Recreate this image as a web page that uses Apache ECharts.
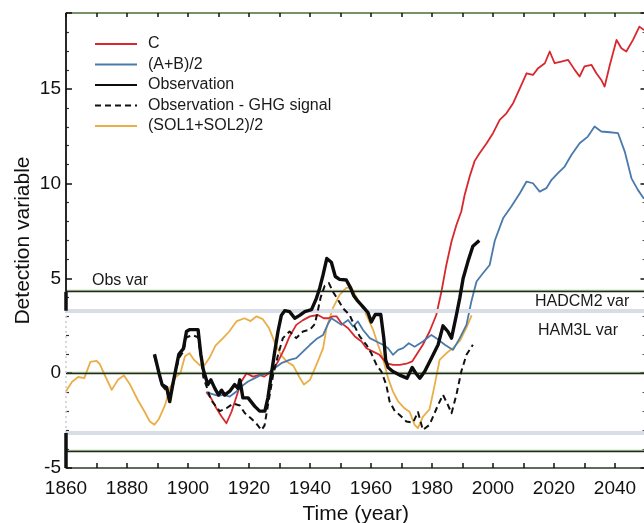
<!DOCTYPE html>
<html>
<head>
<meta charset="utf-8">
<script src="https://cdn.jsdelivr.net/npm/echarts@6/dist/echarts.min.js"></script>
<style>
  html, body { margin: 0; padding: 0; background: #fff; }
  #chart { width: 644px; height: 523px; }
</style>
</head>
<body>
<div id="chart"></div>
<script>
// Detection variable time series, 1860-2050

// Model run C
const cYears = [1906,1907.5,1909.3,1911,1912.6,1914.3,1915.9,1917.5,1919.2,1921.3,1923.5,1925,1927.3,1929.5,1931.7,1933.3,1935.5,1937.7,1940,1942.6,1944.5,1946,1947.5,1948.7,1950.3,1952.5,1954.7,1956.9,1958.5,1960.7,1962.8,1965,1967.2,1969.4,1971.6,1973.5,1974.9,1977,1979.2,1981.4,1983.1,1984.7,1986.4,1988,1989.6,1990.7,1992.4,1994,1995.6,1997.8,2000,2002.2,2004.4,2006.6,2008.8,2011,2013.1,2014.8,2017,2018.6,2020.2,2022.4,2024.6,2026.8,2028.4,2030,2032.3,2033.9,2035.5,2036.6,2038.3,2040.5,2042.1,2043.7,2045.9,2048,2049.5];
const cValues = [-1.0,-1.3,-1.85,-2.28,-2.64,-2.02,-1.23,-0.44,0,-0.18,-0.09,-0.18,0.09,0.61,1.32,1.94,2.55,2.8,3.0,3.07,2.9,2.9,3.0,3.0,2.64,2.37,1.94,1.67,1.32,1.14,0.97,0.53,0.44,0.44,0.5,0.62,0.97,1.5,2.2,3.07,4.31,5.71,6.95,7.82,8.53,9.4,10.4,11.2,11.6,12.1,12.66,13.36,13.71,14.24,15.03,15.82,15.73,16.09,16.35,16.97,16.35,16.44,16.53,16.0,15.65,16.18,16.26,15.82,15.47,15.12,16.26,17.58,17.14,16.97,17.58,18.28,18.1];

// Mean of runs A and B
const abYears = [1906,1908,1910,1911.5,1913.7,1915.9,1917.5,1919.7,1921.9,1924,1926.2,1928.4,1930.6,1933.3,1935.5,1937.7,1940,1942.1,1944.3,1946,1947,1948.7,1950.3,1952.5,1954.1,1955.7,1957.4,1959.6,1961.8,1963.9,1965.6,1967.2,1968.9,1970.5,1972.4,1974.3,1977,1979.8,1981.4,1984.2,1986.9,1989.1,1991.3,1992.9,1994.6,1996.7,1998.9,2000.6,2003.3,2006,2008.8,2011,2013.1,2015.3,2017.5,2019.2,2021.3,2023.5,2025.7,2028.4,2031.1,2033.3,2035.5,2038.3,2041,2043.2,2045.4,2047.5,2049.5];
const abValues = [-1.0,-1.1,-1.2,-1.14,-1.23,-0.97,-0.7,-0.44,-0.26,-0.09,0,0.26,0.53,0.7,0.79,1.14,1.5,1.8,2.02,2.64,2.9,2.73,2.55,2.81,2.46,2.73,2.28,1.85,1.67,1.5,1.32,0.97,1.23,1.32,1.58,1.4,1.67,2.02,1.85,1.5,1.23,1.85,2.55,3.78,4.84,5.27,5.71,7.0,8.17,8.79,9.49,10.11,10.02,9.58,9.76,10.2,10.55,10.9,11.51,12.13,12.48,13.01,12.75,12.71,12.66,11.69,10.28,9.67,9.2];

// Observed record
const obsYears = [1889,1890.5,1891.5,1893,1894,1895,1896,1897,1898.5,1899.5,1900.5,1903.3,1904.2,1905,1906.5,1907.5,1908.8,1910,1911,1912,1913.7,1915.3,1916.4,1917,1918,1919.7,1921.9,1923.5,1925.2,1926.2,1927.3,1928.4,1929.5,1930.6,1931.7,1933.3,1935,1936.6,1938.3,1940.5,1942.1,1943.2,1944.3,1945.5,1947,1948.3,1949.7,1951.9,1953.3,1954.3,1955.7,1957.4,1959,1960.1,1961.4,1963.2,1964.2,1964.8,1965.6,1967.2,1969.4,1971.8,1973.5,1974.7,1976,1977.6,1979.8,1982,1983.6,1985.2,1986.4,1988,1989.1,1990.2,1991.8,1993.4,1995.5];
const obsValues = [1.0,0.0,-0.6,-0.75,-1.5,-0.6,0.2,1.0,1.3,2.2,2.3,2.3,1.0,0.2,-0.6,-0.35,-0.8,-1.15,-0.9,-1.15,-0.95,-0.6,-0.8,-0.35,-1.3,-1.3,-1.75,-2.0,-2.0,-1.3,-0.1,1.1,2.2,3.05,3.3,3.25,2.9,3.05,3.25,3.35,3.95,4.5,5.2,6.05,5.85,5.1,4.95,4.92,4.5,4.1,3.8,3.5,3.2,2.7,3.1,3.1,1.85,0.7,0.3,0.09,-0.1,-0.26,0.3,0.0,-0.26,0.09,0.79,1.5,2.5,2.2,1.85,3.07,3.96,5.0,5.9,6.7,7.0];

// Observation with the GHG signal removed
const resYears = [1889,1890.5,1891.5,1893,1894,1895,1896,1897,1898.5,1899.5,1901.5,1903.3,1904.3,1905,1906.5,1907.5,1908.8,1910.4,1912.6,1914.8,1917,1918.6,1920.8,1922.4,1924.1,1925.1,1926.2,1927.9,1929.5,1931.1,1933.3,1935.5,1937.7,1940,1941.6,1942.7,1943.5,1944.8,1946.2,1947.5,1949.2,1950.8,1953,1954.7,1956.3,1958.5,1960.1,1961.8,1963.4,1965,1966.1,1967.8,1969.4,1971.6,1973.8,1975.4,1977,1979.2,1982,1983.6,1985.2,1986.4,1988,1989.6,1991.3,1993.4];
const resValues = [0.9,0.0,-0.65,-0.95,-1.4,-0.7,0.1,0.8,1.15,1.9,2.0,1.9,0.8,-0.2,-0.9,-1.4,-1.67,-2.0,-1.85,-1.6,-1.7,-2.1,-2.4,-2.65,-3.0,-2.75,-1.7,-0.1,0.95,1.85,2.2,1.85,2.2,2.3,2.6,3.4,4.0,4.6,4.75,4.3,3.87,3.43,3.07,2.46,1.94,1.5,1.05,0.44,0.09,-0.61,-1.49,-2.0,-2.2,-2.55,-2.6,-2.05,-2.99,-2.72,-1.67,-1.14,-1.67,-2.11,-1.14,0.09,0.97,1.5];

// Mean of solar-forced runs SOL1 and SOL2
const solYears = [1860,1862,1864,1866,1868,1870,1871,1873,1875,1877,1879,1881,1883.5,1886,1887.5,1889,1890.5,1892.5,1894,1896,1897.5,1899,1900.5,1902,1904,1905.5,1907,1909,1911.5,1913.5,1916,1918.5,1920.5,1922.5,1924.5,1926.5,1928.5,1930.5,1932.5,1934.5,1936.5,1938,1940,1942.5,1944.3,1945.4,1947.5,1949.7,1951.9,1953.6,1955.7,1958.5,1960.7,1962.3,1963.9,1965.6,1967.2,1968.9,1971,1972.7,1974.3,1975.4,1977,1979.2,1980.9,1982.5,1984.7,1987,1989.1,1991.3,1993];
const solValues = [-0.95,-0.45,-0.2,-0.26,0.6,0.65,0.5,-0.2,-0.88,-0.35,-0.12,-0.6,-1.4,-2.1,-2.55,-2.72,-2.4,-1.67,-0.8,-0.2,0,0.9,1.05,0.7,0.4,0.45,0.8,1.45,1.85,2.2,2.75,2.9,2.75,3.0,2.85,2.4,1.6,0.95,0.6,0.4,-0.2,-0.6,-0.35,0.6,1.32,2.37,3.43,4.13,4.5,4.5,3.87,3.07,2.28,1.5,0.79,-0.26,-0.97,-1.49,-1.85,-2.05,-2.72,-2.9,-2.3,-1.9,-0.6,0.7,1.05,1.35,1.7,2.4,3.05];

// Variability levels: thresholds (dark lines) and model bands (grey)
const obsVarLevels = [4.3, 0, -4.1];
const modelVarLevels = [3.3, -3.15];

// Axis ticks
const xMin = 1860, xMax = 2050, xStep = 10, xLabelStep = 20;
const yMin = -5, yMax = 19, yStep = 5;

const FONT = '"Liberation Sans", Arial, Helvetica, sans-serif';
const pair = (xs, ys) => xs.map((x, i) => [x, ys[i]]);

const axisDark = '#2c3a26';
const chart = echarts.init(document.getElementById('chart'), null, { renderer: 'canvas' });

const lineSeries = (name, xs, ys, color, width, z, type) => ({
  name, type: 'line', data: pair(xs, ys), symbol: 'none', z,
  lineStyle: { color, width, type: type || 'solid', join: 'round' },
  itemStyle: { color },
  emphasis: { disabled: true }, silent: true, animation: false
});

chart.setOption({
  backgroundColor: '#ffffff',
  animation: false,
  grid: { left: 66, top: 13, width: 579.5, height: 455, containLabel: false, outerBoundsMode: 'none' },
  legend: {
    data: ['C', '(A+B)/2', 'Observation', 'Observation - GHG signal', '(SOL1+SOL2)/2'],
    orient: 'vertical', left: 89, top: 31,
    itemWidth: 42, itemHeight: 14, itemGap: 4.5,
    selectedMode: false,
    itemStyle: { opacity: 0 },
    textStyle: { fontFamily: FONT, fontSize: 16, color: '#1a1a1a', padding: [0, 0, 0, 6] }
  },
  xAxis: [{
    type: 'value', min: xMin, max: xMax, interval: xStep,
    name: 'Time (year)', nameLocation: 'middle', nameGap: 36, nameMoveOverlap: false,
    nameTextStyle: { fontFamily: FONT, fontSize: 21, color: '#111' },
    axisLine: { onZero: false, lineStyle: { color: axisDark, width: 1.5 } },
    axisTick: { inside: true, length: 5, lineStyle: { color: '#111', width: 1.5 } },
    axisLabel: {
      fontFamily: FONT, fontSize: 19, color: '#111', margin: 11, showMaxLabel: false,
      formatter: v => ((v - xMin) % xLabelStep === 0 ? String(v) : '')
    },
    splitLine: { show: false }
  }, {
    type: 'value', position: 'top', min: xMin, max: xMax, interval: xStep,
    axisLine: { onZero: false, lineStyle: { color: '#4e6e34', width: 1.5 } },
    axisTick: { inside: true, length: 4, lineStyle: { color: '#111', width: 1.5 } },
    axisLabel: { show: false }, splitLine: { show: false }
  }],
  yAxis: [{
    type: 'value', min: yMin, max: yMax, interval: yStep,
    name: 'Detection variable', nameLocation: 'middle', nameGap: 32, nameRotate: 90, nameMoveOverlap: false,
    nameTextStyle: { fontFamily: FONT, fontSize: 21, color: '#111' },
    axisLine: { show: false, onZero: false },
    axisTick: { inside: true, length: 6, lineStyle: { color: '#111', width: 1.5 } },
    minorTick: { show: true, splitNumber: 5, length: 3, lineStyle: { color: '#333', width: 1.2 } },
    axisLabel: { fontFamily: FONT, fontSize: 19, color: '#111', margin: 5, showMaxLabel: false },
    splitLine: { show: false }
  }, {
    type: 'value', position: 'right', min: yMin, max: yMax, interval: yStep,
    axisLine: { onZero: false, lineStyle: { color: '#222', width: 1.5 } },
    axisTick: { inside: true, length: 5, lineStyle: { color: '#111', width: 1.5 } },
    minorTick: { show: true, splitNumber: 5, length: 3, lineStyle: { color: '#555', width: 1.2 } },
    axisLabel: { show: false }, splitLine: { show: false }
  }],
  graphic: [
    { type: 'text', left: 92, top: 273, style: { text: 'Obs var', fontFamily: FONT, fontSize: 16, fill: '#1a1a1a' } },
    { type: 'text', left: 535, top: 294, style: { text: 'HADCM2 var', fontFamily: FONT, fontSize: 16, fill: '#1a1a1a' } },
    { type: 'text', left: 538, top: 323, style: { text: 'HAM3L var', fontFamily: FONT, fontSize: 16, fill: '#1a1a1a' } }
  ],
  series: [
    {
      name: 'levels', type: 'line', data: [], silent: true, z: 1,
      markLine: {
        silent: true, symbol: 'none', animation: false,
        label: { show: false },
        data: modelVarLevels.map(v => ({ yAxis: v, lineStyle: { color: '#d9dde5', width: 4, type: 'solid' } }))
          .concat(obsVarLevels.map(v => ({ yAxis: v, lineStyle: { color: '#1f2a1c', width: 1.3, type: 'solid', shadowColor: 'rgba(110,160,70,0.55)', shadowOffsetY: -1, shadowBlur: 0 } })))
      }
    },
    // left frame: heavy segments outside the model bands, faint inside
    {
      name: 'frameOuter', type: 'line', symbol: 'none', clip: false, silent: true, z: 6,
      data: [[xMin, yMin], [xMin, modelVarLevels[1]], null, [xMin, modelVarLevels[0]], [xMin, obsVarLevels[0]]],
      connectNulls: false,
      lineStyle: { color: '#111', width: 3.5 }
    },
    {
      name: 'frameUpper', type: 'line', symbol: 'none', clip: false, silent: true, z: 6,
      data: [[xMin, obsVarLevels[0]], [xMin, yMax]],
      lineStyle: { color: '#111', width: 1.8 }
    },
    {
      name: 'frameInner', type: 'line', symbol: 'none', clip: false, silent: true, z: 6,
      data: [[xMin, modelVarLevels[1]], [xMin, modelVarLevels[0]]],
      lineStyle: { color: '#c8ccd4', width: 1.5, type: [2, 3] }
    },
    lineSeries('(SOL1+SOL2)/2', solYears, solValues, '#e9ae45', 1.8, 3),
    lineSeries('C', cYears, cValues, '#d8282e', 1.8, 4),
    lineSeries('(A+B)/2', abYears, abValues, '#4a7aab', 1.8, 4),
    lineSeries('Observation - GHG signal', resYears, resValues, '#111', 2, 5, [6, 4]),
    lineSeries('Observation', obsYears, obsValues, '#0d0d0d', 3.4, 5)
  ]
});
</script>
</body>
</html>
